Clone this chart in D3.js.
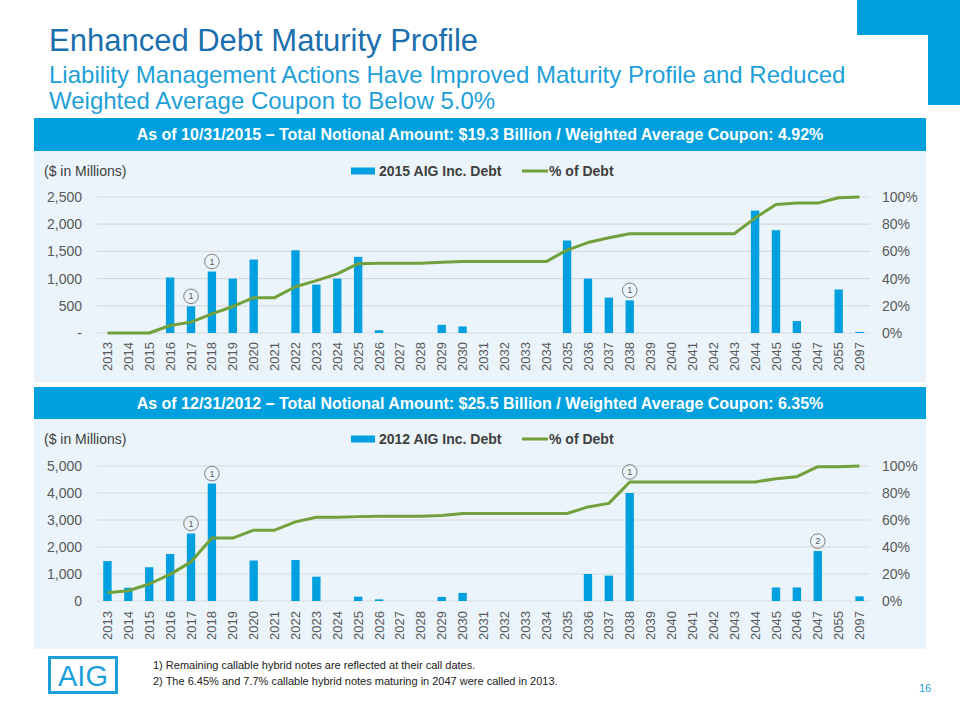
<!DOCTYPE html>
<html><head><meta charset="utf-8">
<script src="https://cdn.jsdelivr.net/npm/d3@7"></script>
<style>
body{margin:0;background:#fff}
svg{display:block;font-family:"Liberation Sans",Arial,Helvetica,sans-serif}
</style>
</head><body>
<svg id="c" width="960" height="720"></svg>
<script>
// ---------------- DATA ----------------
const years = ["2013","2014","2015","2016","2017","2018","2019","2020","2021","2022","2023","2024","2025","2026","2027","2028","2029","2030","2031","2032","2033","2034","2035","2036","2037","2038","2039","2040","2041","2042","2043","2044","2045","2046","2047","2055","2097"];

const debt2015 = [0,0,0,1020,490,1130,1000,1350,0,1520,890,1000,1400,50,0,0,150,120,0,0,0,0,1700,1000,650,600,0,0,0,0,0,2250,1890,220,0,800,20];
const pct2015  = [0,0,0,5.5,8,14,19.5,26,26,34,38.5,43.5,51,51.2,51.2,51.2,52,52.5,52.5,52.5,52.5,52.5,61,66.5,70,73,73,73,73,73,73,84.5,94.5,95.5,95.5,99.5,100];

const debt2012 = [1480,490,1250,1740,2500,4350,0,1500,0,1520,900,0,160,60,0,0,150,300,0,0,0,0,0,1000,940,4000,0,0,0,0,0,0,500,500,1850,0,170];
const pct2012  = [6.1,7.6,12.6,19.7,29,46.6,46.6,52.5,52.5,58.6,62,62,62.5,62.8,62.8,62.8,63.4,64.8,64.8,64.8,64.8,64.8,64.8,69.7,72.3,88.2,88.2,88.2,88.2,88.2,88.2,88.2,90.6,92.1,99.5,99.5,100];

const ticks2015 = [0,500,1000,1500,2000,2500];
const tickLabels2015 = ["-","500","1,000","1,500","2,000","2,500"];
const ticks2012 = [0,1000,2000,3000,4000,5000];
const tickLabels2012 = ["0","1,000","2,000","3,000","4,000","5,000"];
const pctTicks = [0,20,40,60,80,100];
const pctTickLabels = ["0%","20%","40%","60%","80%","100%"];

// [year, note label, what the marker sits above]
const notes2015 = [["2017","1","bar"],["2018","1","bar"],["2038","1","bar"]];
const notes2012 = [["2017","1","bar"],["2018","1","bar"],["2038","1","line"],["2047","2","bar"]];

const title = "Enhanced Debt Maturity Profile";
const subtitle1 = "Liability Management Actions Have Improved Maturity Profile and Reduced";
const subtitle2 = "Weighted Average Coupon to Below 5.0%";
const header2015 = "As of 10/31/2015 \u2013 Total Notional Amount: $19.3 Billion / Weighted Average Coupon: 4.92%";
const header2012 = "As of 12/31/2012 \u2013 Total Notional Amount: $25.5 Billion / Weighted Average Coupon: 6.35%";
const barLabel2015 = "2015 AIG Inc. Debt";
const barLabel2012 = "2012 AIG Inc. Debt";
const lineLabel = "% of Debt";
const unitsLabel = "($ in Millions)";
const footnotes = ["1) Remaining callable hybrid notes are reflected at their call dates.",
                   "2) The 6.45% and 7.7% callable hybrid notes maturing in 2047 were called in 2013."];
const pageNum = "16";

// ---------------- STYLE ----------------
const BLUE = "#00a0df", BAR = "#00a0e0", GREEN = "#72a03b", PANEL = "#eaf4fa";
const GRID = "#d9d9d9", AXT = "#595959";

const svg = d3.select("#c");

// Top-right decorative shape
svg.append("rect").attr("x",857).attr("y",0).attr("width",103).attr("height",35).attr("fill",BLUE);
svg.append("rect").attr("x",928).attr("y",0).attr("width",32).attr("height",105).attr("fill",BLUE);

// Titles
svg.append("text").attr("x",49).attr("y",51).attr("font-size",31).attr("fill","#1b6fae").text(title);
svg.append("text").attr("x",49).attr("y",83).attr("font-size",24).attr("fill","#1e9fd9").text(subtitle1);
svg.append("text").attr("x",49).attr("y",109).attr("font-size",24).attr("fill","#1e9fd9").text(subtitle2);

function drawChart(o){
  const g = svg.append("g");
  // header + panel
  g.append("rect").attr("x",34).attr("y",o.top).attr("width",892).attr("height",o.headerH).attr("fill",BLUE);
  g.append("rect").attr("x",34).attr("y",o.top+o.headerH).attr("width",892).attr("height",o.panelH).attr("fill",PANEL);
  g.append("text").attr("x",480).attr("y",o.top+o.headerH/2+5.5).attr("text-anchor","middle")
    .attr("font-size",16).attr("font-weight","bold").attr("fill","#fff").text(o.header);

  const x = d3.scaleBand().domain(years).range([97,870]).paddingInner(0.6).paddingOuter(0.3);
  const y = d3.scaleLinear().domain([0,o.max]).range([o.y0,o.y1]);
  const yp = d3.scaleLinear().domain([0,100]).range([o.y0,o.y1]);

  // gridlines
  g.append("g").selectAll("line").data(o.ticks).join("line")
    .attr("x1",97).attr("x2",870).attr("y1",d=>y(d)).attr("y2",d=>y(d))
    .attr("stroke",GRID).attr("stroke-width",1.2);

  // left axis
  const la = g.append("g").attr("transform","translate(82,0)")
    .call(d3.axisLeft(y).tickValues(o.ticks).tickSize(0).tickPadding(0)
      .tickFormat((d,i)=>o.tickLabels[i]));
  la.select(".domain").remove();
  la.selectAll("text").attr("font-size",14).attr("fill",AXT).attr("font-family",null);

  // right axis
  const ra = g.append("g").attr("transform","translate(882,0)")
    .call(d3.axisRight(yp).tickValues(pctTicks).tickSize(0).tickPadding(0)
      .tickFormat((d,i)=>pctTickLabels[i]));
  ra.select(".domain").remove();
  ra.selectAll("text").attr("font-size",14).attr("fill",AXT).attr("font-family",null);

  // x axis labels
  const xa = g.append("g").attr("transform",`translate(0,${o.y0})`)
    .call(d3.axisBottom(x).tickSize(0).tickPadding(0));
  xa.select(".domain").remove();
  xa.selectAll("text").attr("font-size",13).attr("fill",AXT).attr("font-family",null)
    .attr("text-anchor","end").attr("dy","0.35em").attr("y",0)
    .attr("transform",`translate(0,${o.labelOff}) rotate(-90)`);

  // bars
  g.append("g").selectAll("rect").data(o.values.map((v,i)=>({k:years[i],v})).filter(d=>d.v>0)).join("rect")
    .attr("x",d=>x(d.k)).attr("width",x.bandwidth())
    .attr("y",d=>y(d.v)).attr("height",d=>y(0)-y(d.v)).attr("fill",BAR);

  // line
  const cx = k => x(k)+x.bandwidth()/2;
  g.append("path").datum(o.pct.map((v,i)=>[cx(years[i]),yp(v)]))
    .attr("d",d3.line()).attr("fill","none").attr("stroke",GREEN).attr("stroke-width",3)
    .attr("stroke-linejoin","round");

  // annotation circles
  o.notes.forEach(([k,lab,anchor])=>{
    const i = years.indexOf(k);
    const top = anchor==="line" ? yp(o.pct[i]) : y(o.values[i]);
    const cy = top-10;
    g.append("circle").attr("cx",cx(k)).attr("cy",cy).attr("r",7.3)
      .attr("fill","none").attr("stroke","#7f7f7f").attr("stroke-width",1);
    g.append("text").attr("x",cx(k)).attr("y",cy+3).attr("text-anchor","middle")
      .attr("font-size",9).attr("fill","#595959").text(lab);
  });

  // units label
  g.append("text").attr("x",44).attr("y",o.legendY+5).attr("font-size",14).attr("fill","#404040").text(unitsLabel);
  // legend
  g.append("rect").attr("x",351).attr("y",o.legendY-3.5).attr("width",24).attr("height",7).attr("fill",BAR);
  g.append("text").attr("x",379).attr("y",o.legendY+5).attr("font-size",14).attr("font-weight","bold").attr("fill","#404040").text(o.barLabel);
  g.append("line").attr("x1",522).attr("x2",548).attr("y1",o.legendY).attr("y2",o.legendY).attr("stroke",GREEN).attr("stroke-width",3);
  g.append("text").attr("x",549).attr("y",o.legendY+5).attr("font-size",14).attr("font-weight","bold").attr("fill","#404040").text(lineLabel);
}

drawChart({top:118, headerH:33, panelH:231, header:header2015, max:2500, y0:333, y1:197,
  ticks:ticks2015, tickLabels:tickLabels2015, values:debt2015, pct:pct2015, notes:notes2015,
  barLabel:barLabel2015, legendY:171, labelOff:9});
drawChart({top:387, headerH:32, panelH:230, header:header2012, max:5000, y0:601, y1:466,
  ticks:ticks2012, tickLabels:tickLabels2012, values:debt2012, pct:pct2012, notes:notes2012,
  barLabel:barLabel2012, legendY:439, labelOff:10});

// Footer: logo
svg.append("rect").attr("x",49.5).attr("y",657.5).attr("width",67).attr("height",35)
  .attr("fill","none").attr("stroke","#1e9fd9").attr("stroke-width",3);
svg.append("text").attr("x",83).attr("y",686).attr("text-anchor","middle").attr("font-size",29)
  .attr("fill","#1e9fd9").text("AIG");
// footnotes
svg.selectAll("text.fn").data(footnotes).join("text").attr("class","fn")
  .attr("x",153).attr("y",(d,i)=>669+i*15.5).attr("font-size",11).attr("fill","#222").text(d=>d);
svg.append("text").attr("x",925).attr("y",692).attr("text-anchor","middle").attr("font-size",11).attr("fill","#1e9fd9").text(pageNum);
</script>
</body></html>
